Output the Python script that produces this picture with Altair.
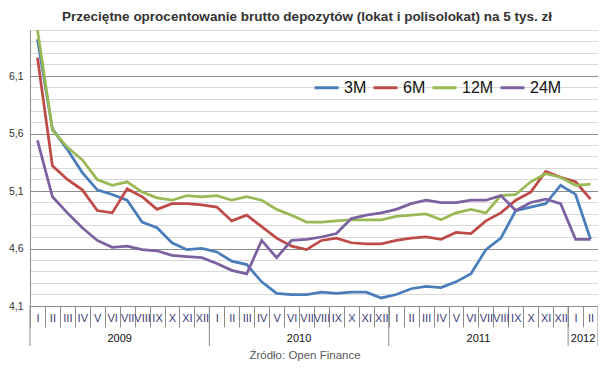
import altair as alt
import pandas as pd

title = "Przeciętne oprocentowanie brutto depozytów (lokat i polisolokat) na 5 tys. zł"
source = "Źródło: Open Finance"

roman = ["I", "II", "III", "IV", "V", "VI", "VII", "VIII", "IX", "X", "XI", "XII"]
months = roman * 3 + ["I", "II"]
years = ["2009"] * 12 + ["2010"] * 12 + ["2011"] * 12 + ["2012"] * 2

series = ["3M", "6M", "12M", "24M"]
colors = ["#4a7ebb", "#be4b48", "#98b954", "#7d60a0"]

v3m = [6.42, 5.64, 5.46, 5.26, 5.11, 5.07, 5.02, 4.83, 4.78, 4.65, 4.59, 4.60,
       4.57, 4.49, 4.46, 4.31, 4.21, 4.20, 4.20, 4.22, 4.21, 4.22, 4.22, 4.17,
       4.20, 4.25, 4.27, 4.26, 4.31, 4.38, 4.59, 4.69, 4.93, 4.96, 4.99, 5.15,
       5.07, 4.68]
v6m = [6.26, 5.32, 5.20, 5.11, 4.93, 4.91, 5.12, 5.05, 4.94, 4.99, 4.99, 4.98,
       4.96, 4.84, 4.89, 4.79, 4.69, 4.62, 4.59, 4.67, 4.69, 4.65, 4.64, 4.64,
       4.67, 4.69, 4.70, 4.68, 4.74, 4.73, 4.84, 4.91, 5.02, 5.09, 5.27, 5.22,
       5.18, 5.03]
v12m = [6.50, 5.63, 5.48, 5.37, 5.20, 5.15, 5.18, 5.09, 5.04, 5.02, 5.06, 5.05,
        5.06, 5.02, 5.05, 5.02, 4.94, 4.89, 4.83, 4.83, 4.84, 4.85, 4.85, 4.85,
        4.88, 4.89, 4.90, 4.85, 4.91, 4.94, 4.91, 5.06, 5.07, 5.18, 5.25, 5.22,
        5.15, 5.16]
v24m = [5.54, 5.05, 4.91, 4.78, 4.67, 4.61, 4.62, 4.59, 4.58, 4.54, 4.53, 4.52,
        4.47, 4.41, 4.38, 4.67, 4.52, 4.67, 4.68, 4.70, 4.73, 4.86, 4.89, 4.91,
        4.94, 4.99, 5.02, 5.00, 5.00, 5.02, 5.02, 5.06, 4.93, 5.00, 5.03, 4.99,
        4.68, 4.68]

y_ticks = [round(4.1 + 0.1 * k, 1) for k in range(25)]

idx = list(range(len(months)))
rows = []
for name, vals in zip(series, [v3m, v6m, v12m, v24m]):
    for i, v in enumerate(vals):
        rows.append({"idx": i, "series": name, "value": v})
df = pd.DataFrame(rows)

# year label positions (middle of each year's span) and separators
year_names = []
for y in years:
    if y not in year_names:
        year_names.append(y)
ylab_rows, ysep_rows = [], []
for y in year_names:
    ids = [i for i, yy in enumerate(years) if yy == y]
    first, cnt = ids[0], len(ids)
    ylab_rows.append({"idx": first + cnt // 2 - 1, "year": y})
    ysep_rows.append({"idx": first})
ylab = pd.DataFrame(ylab_rows)
ysep = pd.DataFrame(ysep_rows)
yend = pd.DataFrame([{"idx": idx[-1]}])

FONT = "Liberation Sans"
month_expr = "[" + ",".join("'%s'" % m for m in months) + "][datum.value]"
major_test = "round(datum.value*10) % 5 == 1"

xscale = alt.Scale(type="band", domain=idx, paddingInner=0, paddingOuter=0)

lines = alt.Chart(df).mark_line(strokeWidth=2.75, clip=True).encode(
    x=alt.X("idx:O", scale=xscale, bandPosition=0.5, title=None,
            axis=alt.Axis(labelExpr=month_expr, labelAngle=0, tickBand="extent",
                          tickSize=21, tickColor="#8c8c8c", domainColor="#8c8c8c",
                          labelPadding=-9, labelBaseline="middle", labelFont=FONT,
                          labelFontSize=11, labelColor="#3c3c78", grid=False)),
    y=alt.Y("value:Q", scale=alt.Scale(domain=[4.1, 6.5], nice=False, zero=False),
            title=None,
            axis=alt.Axis(values=y_ticks,
                          labelExpr=major_test + " ? replace(format(datum.value, '.1f'), '.', ',') : ''",
                          gridColor={"condition": {"test": major_test, "value": "#8c8c8c"},
                                     "value": "#d9d9d9"},
                          grid=True, ticks=False, domainColor="#8c8c8c",
                          labelPadding=7, labelFont=FONT, labelFontSize=10.5,
                          labelColor="#333333")),
    color=alt.Color("series:N", scale=alt.Scale(domain=series, range=colors),
                    legend=alt.Legend(orient="none", legendX=283, legendY=44,
                                      direction="horizontal", title=None,
                                      symbolType="stroke", symbolSize=576,
                                      symbolStrokeWidth=3, labelFontSize=16,
                                      labelFont=FONT, labelColor="#111111",
                                      columnPadding=0, labelOffset=4, padding=0)),
    detail="series:N",
)

sep = alt.Chart(ysep).mark_rule(color="#8c8c8c", strokeWidth=1).encode(
    x=alt.X("idx:O", bandPosition=0),
    y=alt.value(276), y2=alt.value(316),
)
sep_end = alt.Chart(yend).mark_rule(color="#8c8c8c", strokeWidth=1).encode(
    x=alt.X("idx:O", bandPosition=1),
    y=alt.value(276), y2=alt.value(316),
)
year_text = alt.Chart(ylab).mark_text(font=FONT, fontSize=11, color="#111111",
                                      baseline="middle").encode(
    x=alt.X("idx:O", bandPosition=1),
    y=alt.value(309),
    text="year:N",
)
src = alt.Chart(pd.DataFrame([{"t": source}])).mark_text(
    font=FONT, fontSize=11.5, color="#595959", baseline="middle").encode(
    x=alt.value(275), y=alt.value(326), text="t:N")

chart = alt.layer(lines, sep, sep_end, year_text, src).properties(
    width=568, height=276,
    title=alt.TitleParams(title, font=FONT, fontSize=13.5, fontWeight="bold",
                          color="#333333", anchor="middle", offset=7, dx=-7),
    autosize=alt.AutoSizeParams(type="none"),
    padding={"left": 22, "top": 22, "right": 0, "bottom": 57},
).configure_view(strokeWidth=0)

chart.save("out.html", embed_options={"renderer": "svg", "actions": False})
